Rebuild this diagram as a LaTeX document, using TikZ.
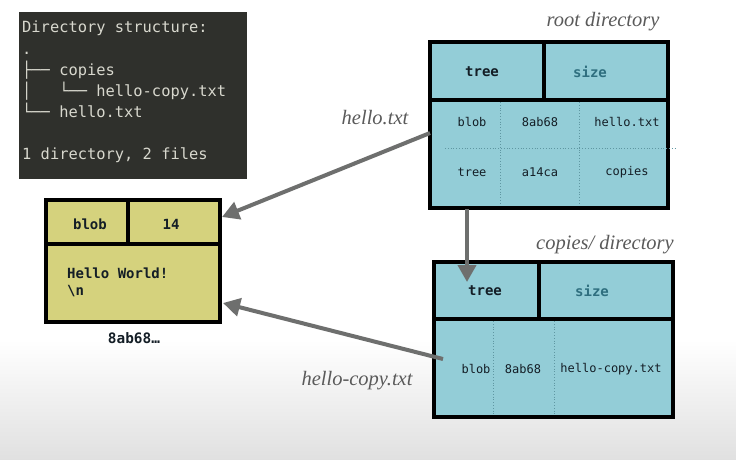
\documentclass[tikz,border=0pt]{standalone}
\usepackage{fontspec}
\setmonofont{DejaVu Sans Mono}
\newfontfamily\labelfont{Liberation Serif}
\usetikzlibrary{arrows.meta}
\definecolor{termbg}{HTML}{2F302C}
\definecolor{termfg}{HTML}{D8D8CE}
\definecolor{cyanbox}{HTML}{93CDD7}
\definecolor{yelbox}{HTML}{D5D27D}
\definecolor{arrowgray}{HTML}{6E6F6E}
\definecolor{labelgray}{HTML}{5A5A5A}
\definecolor{celltext}{HTML}{141E26}
\definecolor{sizetext}{HTML}{2F6F7F}
\definecolor{dotline}{HTML}{5F97A2}
\begin{document}
\begin{tikzpicture}[x=1pt,y=-1pt,
  box/.style={draw=black,line width=4pt,inner sep=0pt,outer sep=0pt},
  termtxt/.style={anchor=base west,inner sep=0pt,text=termfg,font=\ttfamily\fontsize{15.4}{18}\selectfont},
  hdr/.style={inner sep=0pt,text=celltext,font=\ttfamily\bfseries\fontsize{14}{16}\selectfont},
  cell/.style={inner sep=0pt,text=celltext,font=\ttfamily\fontsize{12}{14}\selectfont},
  lbl/.style={inner sep=0pt,text=labelgray,font=\labelfont\itshape\fontsize{20.5}{24}\selectfont},
  arr/.style={draw=arrowgray,line width=4pt,-{Triangle[length=17pt,width=18pt]}},
  divider/.style={draw=black,line width=4pt},
  dotsline/.style={draw=dotline,line width=0.8pt,dotted}]
\useasboundingbox (0,0) rectangle (736,459);
\fill[white] (0,0) rectangle (736,459);
\shade[top color=white,bottom color=black!12] (0,340) rectangle (736,459);

% terminal
\node[fill=termbg,minimum width=228pt,minimum height=167pt,inner sep=0pt] (term) at (133,95.5) {};
\node[termtxt] (t1) at (22,32) {Directory structure:};
\node[termtxt] (t2) at (22,54) {.};
\node[termtxt] (t3) at (22,75) {├── copies};
\node[termtxt] (t4) at (22,96) {│\ \ \ └── hello-copy.txt};
\node[termtxt] (t5) at (22,117) {└── hello.txt};
\node[termtxt] (t6) at (22,159) {1 directory, 2 files};

% root directory
\node[box,fill=cyanbox,minimum width=238pt,minimum height=166pt] (root) at (549,125) {};
\draw[dotsline] (500,102) -- (500,204) (579,102) -- (579,204) (445,148) -- (676,148);
\draw[divider] (430,100) -- (668,100) (544,42) -- (544,100);
\node[hdr] (rtree) at (482,72) {tree};
\node[hdr,text=sizetext] (rsize) at (590,72) {size};
\node[cell] (rc11) at (472,122) {blob};
\node[cell] (rc12) at (540,122) {8ab68};
\node[cell] (rc13) at (627,122) {hello.txt};
\node[cell] (rc21) at (472,172) {tree};
\node[cell] (rc22) at (540,172) {a14ca};
\node[cell] (rc23) at (627,172) {copies};
\node[lbl] (rlbl) at (603,22) {root directory};

% blob
\node[box,fill=yelbox,minimum width=174pt,minimum height=122pt] (blob) at (133,261) {};
\draw[divider] (46,244) -- (220,244) (128,200) -- (128,244);
\node[hdr] (btype) at (90,224) {blob};
\node[hdr] (bsize) at (171,224) {14};
\node[hdr,anchor=base west] (bl1) at (67,278) {Hello World!};
\node[hdr,anchor=base west] (bl2) at (67,295) {\textbackslash n};
\node[hdr,font=\ttfamily\bfseries\fontsize{14.4}{16}\selectfont] (bhash) at (134,338) {8ab68…};

% copies directory
\node[box,fill=cyanbox,minimum width=239pt,minimum height=155pt] (copies) at (553.5,339.5) {};
\draw[dotsline] (493,321) -- (493,414) (554,321) -- (554,414);
\draw[divider] (434,319) -- (673,319) (539,262) -- (539,319);
\node[hdr] (ctree) at (485,291) {tree};
\node[hdr,text=sizetext] (csize) at (592,291) {size};
\node[cell] (cc1) at (476,369) {blob};
\node[cell] (cc2) at (523,369) {8ab68};
\node[cell] (cc3) at (611,369) {hello-copy.txt};
\node[lbl] (clbl) at (605,245) {copies/ directory};

% labels
\node[lbl] (l1) at (375,118) {hello.txt};
\node[lbl] (l2) at (357,381) {hello-copy.txt};

% arrows
\coordinate (a1s) at (430,133);
\coordinate (a1e) at (222,217);
\coordinate (a2s) at (467,209);
\coordinate (a2e) at (467,282);
\coordinate (a3s) at (443,359);
\coordinate (a3e) at (223,303);
\draw[arr] (a1s) -- (a1e);
\draw[arr] (a2s) -- (a2e);
\draw[arr] (a3s) -- (a3e);
\end{tikzpicture}
\end{document}
